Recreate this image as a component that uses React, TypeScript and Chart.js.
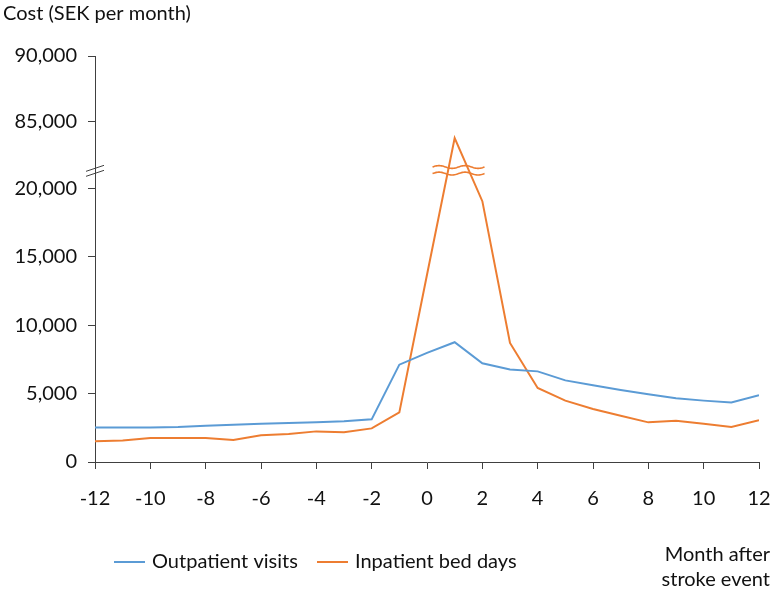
import React, { useEffect, useRef } from "react";
import { Chart, registerables } from "chart.js";

Chart.register(...registerables);

const months = [-12, -11, -10, -9, -8, -7, -6, -5, -4, -3, -2, -1, 0, 1, 2, 3, 4, 5, 6, 7, 8, 9, 10, 11, 12];
const outpatientVisits = [2530, 2530, 2530, 2560, 2660, 2730, 2800, 2850, 2900, 2980, 3120, 7120, 7980, 8760, 7220, 6760, 6630, 5970, 5610, 5270, 4950, 4660, 4490, 4360, 4880];
const inpatientBedDays = [1510, 1580, 1750, 1750, 1750, 1610, 1950, 2050, 2240, 2170, 2460, 3630, 13700, 83800, 19080, 8710, 5420, 4490, 3880, 3390, 2900, 3020, 2800, 2560, 3050];
const yTickValues = [0, 5000, 10000, 15000, 20000, 85000, 90000];
const yTickLabels = ["0", "5,000", "10,000", "15,000", "20,000", "85,000", "90,000"];
const xTickLabels = ["-12", "-10", "-8", "-6", "-4", "-2", "0", "2", "4", "6", "8", "10", "12"];
const seriesNames = ["Outpatient visits", "Inpatient bed days"];
const yTitle = "Cost (SEK per month)";
const xTitleLines = ["Month after", "stroke event"];

// broken axis: values above the break are shifted down
const BREAK_LOW = 20000;
const BREAK_SHIFT = 60100;
const toAxis = (v: number) => (v <= BREAK_LOW ? v : v - BREAK_SHIFT);

const BLUE = "#5B9BD5";
const ORANGE = "#ED7D31";
const AXIS = "#404040";
const TEXT = "#111111";
const FONT = "Lato";

const extrasPlugin = {
  id: "extras",
  afterDatasetsDraw(chart: any) {
    const ctx = chart.ctx;
    const xs = chart.scales.x;
    const ys = chart.scales.y;
    ctx.save();
    // y-axis break marks
    ctx.strokeStyle = AXIS;
    ctx.lineWidth = 1;
    const ax = xs.left;
    const yb = ys.getPixelForValue(21300);
    [-2.5, 2.5].forEach((d) => {
      ctx.beginPath();
      ctx.moveTo(ax - 9, yb + d + 3);
      ctx.lineTo(ax + 9, yb + d - 3);
      ctx.stroke();
    });
    // wavy break marks on the inpatient line
    ctx.strokeStyle = ORANGE;
    ctx.lineWidth = 1.6;
    const x0 = xs.getPixelForValue(0.2);
    const x1 = xs.getPixelForValue(2.1);
    [21580, 21100].forEach((v) => {
      const yc = ys.getPixelForValue(v);
      ctx.beginPath();
      for (let x = x0; x <= x1; x += 1) {
        const y = yc + 1.4 * Math.sin(((x - x0) / 26) * Math.PI * 2 + Math.PI);
        if (x === x0) ctx.moveTo(x, y);
        else ctx.lineTo(x, y);
      }
      ctx.stroke();
    });
    ctx.restore();
  },
  afterDraw(chart: any) {
    const ctx = chart.ctx;
    ctx.save();
    ctx.font = `20px ${FONT}`;
    ctx.fillStyle = TEXT;
    ctx.textBaseline = "middle";
    ctx.textAlign = "left";
    ctx.fillText(yTitle, 3, 14);
    // legend
    const ly = 562;
    const items = [
      { x: 114, color: BLUE, label: seriesNames[0] },
      { x: 317, color: ORANGE, label: seriesNames[1] },
    ];
    items.forEach((it) => {
      ctx.strokeStyle = it.color;
      ctx.lineWidth = 2;
      ctx.beginPath();
      ctx.moveTo(it.x, ly);
      ctx.lineTo(it.x + 31, ly);
      ctx.stroke();
      ctx.fillText(it.label, it.x + 38, ly);
    });
    ctx.textAlign = "right";
    ctx.fillText(xTitleLines[0], 770, 555);
    ctx.fillText(xTitleLines[1], 770, 580);
    ctx.restore();
  },
};

export default function App() {
  const ref = useRef<HTMLCanvasElement | null>(null);
  useEffect(() => {
    let chart: Chart | null = null;
    let cancelled = false;
    const make = () => {
      if (cancelled || !ref.current) return;
      chart = new Chart(ref.current, {
        type: "line",
        data: {
          datasets: [
            {
              label: seriesNames[0],
              data: months.map((m, i) => ({ x: m, y: toAxis(outpatientVisits[i]) })),
              borderColor: BLUE,
              borderWidth: 2,
              pointRadius: 0,
              tension: 0,
            },
            {
              label: seriesNames[1],
              data: months.map((m, i) => ({ x: m, y: toAxis(inpatientBedDays[i]) })),
              borderColor: ORANGE,
              borderWidth: 2,
              pointRadius: 0,
              tension: 0,
            },
          ],
        },
        options: {
          animation: false,
          responsive: false,
          maintainAspectRatio: false,
          layout: { padding: { left: 0, top: 56, right: 14, bottom: 0 } },
          plugins: { legend: { display: false }, title: { display: false }, tooltip: { enabled: false } },
          scales: {
            x: {
              type: "linear",
              min: -12,
              max: 12,
              afterBuildTicks: (s: any) => {
                s.ticks = xTickLabels.map((l) => ({ value: Number(l) }));
              },
              afterFit: (s: any) => {
                s.height = 131;
                s.paddingLeft = 0;
                s.paddingRight = 0;
              },
              ticks: {
                callback: (v: any) => xTickLabels[xTickLabels.indexOf(String(v))] ?? "",
                font: { family: FONT, size: 20 },
                color: TEXT,
                padding: 18,
                maxRotation: 0,
                autoSkip: false,
              },
              grid: { drawOnChartArea: false, drawTicks: true, tickLength: 7, color: AXIS, lineWidth: 1 },
              border: { display: true, color: AXIS, width: 1 },
            },
            y: {
              type: "linear",
              min: 0,
              max: toAxis(90000) - 200,
              afterBuildTicks: (s: any) => {
                s.ticks = yTickValues.map((v) => ({ value: v === 90000 ? toAxis(v) - 200 : toAxis(v) }));
              },
              afterFit: (s: any) => {
                s.width = 95;
                s.paddingTop = 0;
                s.paddingBottom = 0;
              },
              ticks: {
                callback: (_v: any, i: number) => yTickLabels[i],
                font: { family: FONT, size: 20 },
                color: TEXT,
                padding: 11,
                autoSkip: false,
              },
              grid: { drawOnChartArea: false, drawTicks: true, tickLength: 7, color: AXIS, lineWidth: 1 },
              border: { display: true, color: AXIS, width: 1 },
            },
          },
        },
        plugins: [extrasPlugin],
      });
    };
    const fonts: any = (document as any).fonts;
    if (fonts && fonts.load) {
      fonts.load(`20px ${FONT}`).then(make, make);
    } else {
      make();
    }
    return () => {
      cancelled = true;
      if (chart) chart.destroy();
    };
  }, []);
  return (
    <div style={{ position: "absolute", left: 0, top: 0, width: 773, height: 593, background: "#fff" }}>
      <canvas ref={ref} width={773} height={593} style={{ width: 773, height: 593, display: "block" }} />
    </div>
  );
}
